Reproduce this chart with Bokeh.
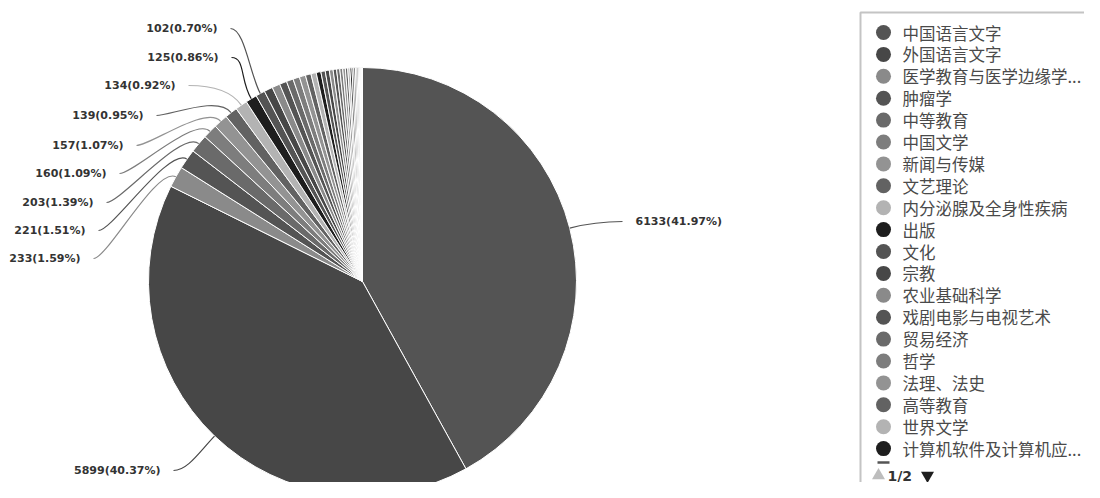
import math
from bokeh.plotting import figure
from bokeh.models import Range1d
from bokeh.core.properties import value
from bokeh.embed import file_html
from bokeh.resources import INLINE

# ---------------- data ----------------
names_page1 = ["中国语言文字", "外国语言文字", "医学教育与医学边缘学科", "肿瘤学", "中等教育",
               "中国文学", "新闻与传媒", "文艺理论", "内分泌腺及全身性疾病", "出版",
               "文化", "宗教", "农业基础科学", "戏剧电影与电视艺术", "贸易经济",
               "哲学", "法理、法史", "高等教育", "世界文学", "计算机软件及计算机应用"]
values_page1 = [6133, 5899, 233, 221, 203, 160, 157, 139, 134, 125,
                102, 95, 88, 80, 76, 72, 68, 62, 58, 52]
names_page2 = ["教育理论与教育管理", "初等教育", "心理学", "图书情报与数字图书馆", "社会学及统计学",
               "互联网技术", "旅游", "政治学", "企业经济", "音乐舞蹈",
               "美术书法雕塑与摄影", "人物传记", "民族学", "中国古代史", "考古",
               "档案及博物馆", "新闻学", "伦理学", "逻辑学", "体育"]
values_page2 = [48, 45, 42, 38, 35, 32, 29, 26, 24, 22,
                20, 18, 16, 14, 12, 10, 9, 7, 5, 4]
palette = ["#545454", "#474747", "#8a8a8a", "#545454", "#6a6a6a",
           "#7d7d7d", "#939393", "#626262", "#b3b3b3", "#1e1e1e"]
page_label = "1/2"

names = names_page1 + names_page2
values = values_page1 + values_page2
colors = [palette[i % len(palette)] for i in range(len(values))]
total = float(sum(values))

# ---------------- layout (pixel space of the picture) ----------------
W, H = 1084, 482
def px(X):
    return X
def py(Y):
    return 498 - Y

CX, CY, R = 362, 281, 214
# label anchors for the labelled slices: (text x, text y, align)
label_pos = [(635, 221, "left"), (160, 470, "right"), (80, 258, "right"),
             (85, 230, "right"), (93, 202, "right"), (106, 173, "right"),
             (123, 145, "right"), (143, 115, "right"), (175, 85, "right"),
             (218, 57, "right"), (217, 28, "right")]

p = figure(width=W, height=H, output_backend="svg", toolbar_location=None,
           x_range=Range1d(0, W), y_range=Range1d(498 - H, 498),
           min_border=0, outline_line_color=None)
p.axis.visible = False
p.xgrid.visible = False
p.ygrid.visible = False
p.background_fill_color = "white"
p.border_fill_color = "white"

# ---------------- pie ----------------
starts, ends, mids = [], [], []
cum = 0.0
for v in values:
    t0 = cum / total * 2 * math.pi
    cum += v
    t1 = cum / total * 2 * math.pi
    starts.append(math.pi / 2 - t1)
    ends.append(math.pi / 2 - t0)
    mids.append((t0 + t1) / 2)

p.wedge(x=px(CX), y=py(CY), radius=R, start_angle=starts, end_angle=ends,
        fill_color=colors, line_color="white", line_width=1)

# ---------------- labels + guide lines ----------------
for i, (LX, LY, align) in enumerate(label_pos):
    th = mids[i]
    sx, sy = math.sin(th), math.cos(th)
    ex, ey = CX + R * sx, CY - R * sy
    side = 1 if align == "left" else -1
    endX = LX - 13 if align == "left" else LX + 13
    c0x, c0y = CX + (R + 22) * sx, CY - (R + 22) * sy
    c1x, c1y = endX - side * 14, LY
    p.bezier(x0=px(ex), y0=py(ey), x1=px(endX), y1=py(LY),
             cx0=px(c0x), cy0=py(c0y), cx1=px(c1x), cy1=py(c1y),
             line_color=colors[i], line_width=1.2)
    txt = "%d(%.2f%%)" % (values[i], values[i] / total * 100)
    p.text(x=[px(LX)], y=[py(LY)], text=[txt], text_align=align,
           text_baseline="middle", text_font=value("DejaVu Sans"),
           text_font_style="bold", text_font_size="11px", text_color="#333333")

# ---------------- legend (scroll type, page 1) ----------------
p.quad(left=860, right=1120, top=py(12), bottom=-20, fill_color="white",
       line_color="#c4c4c4", line_width=2)
n1 = len(names_page1)
step = 21.9
ly = [py(32 + step * k) for k in range(n1)]
disp = [n if len(n) <= 10 else n[:10] + "..." for n in names_page1]
p.scatter(x=[883] * n1, y=ly, size=15, marker="circle",
          fill_color=colors[:n1], line_color=None)
p.text(x=[902] * n1, y=ly, text=disp, text_align="left", text_baseline="middle",
       text_font=value("Noto Sans CJK SC"), text_font_size="16.5px", text_color="#4a4a4a")
# next item peeking below the clip
dashY = 32 + step * n1 - 8
p.segment(x0=[877], y0=[py(dashY)], x1=[889], y1=[py(dashY)], line_color=colors[n1], line_width=2.5)
# pager
pagerY = 475
p.scatter(x=[878], y=[py(pagerY)], size=13, marker="triangle", fill_color="#bdbdbd", line_color=None)
p.text(x=[887], y=[py(pagerY)], text=[page_label], text_align="left", text_baseline="middle",
       text_font=value("DejaVu Sans"), text_font_style="bold", text_font_size="14px",
       text_color="#333333")
p.scatter(x=[927], y=[py(pagerY)], size=13, marker="inverted_triangle", fill_color="#1e1e1e",
          line_color=None)

open("out.html", "w").write(file_html(p, INLINE))
